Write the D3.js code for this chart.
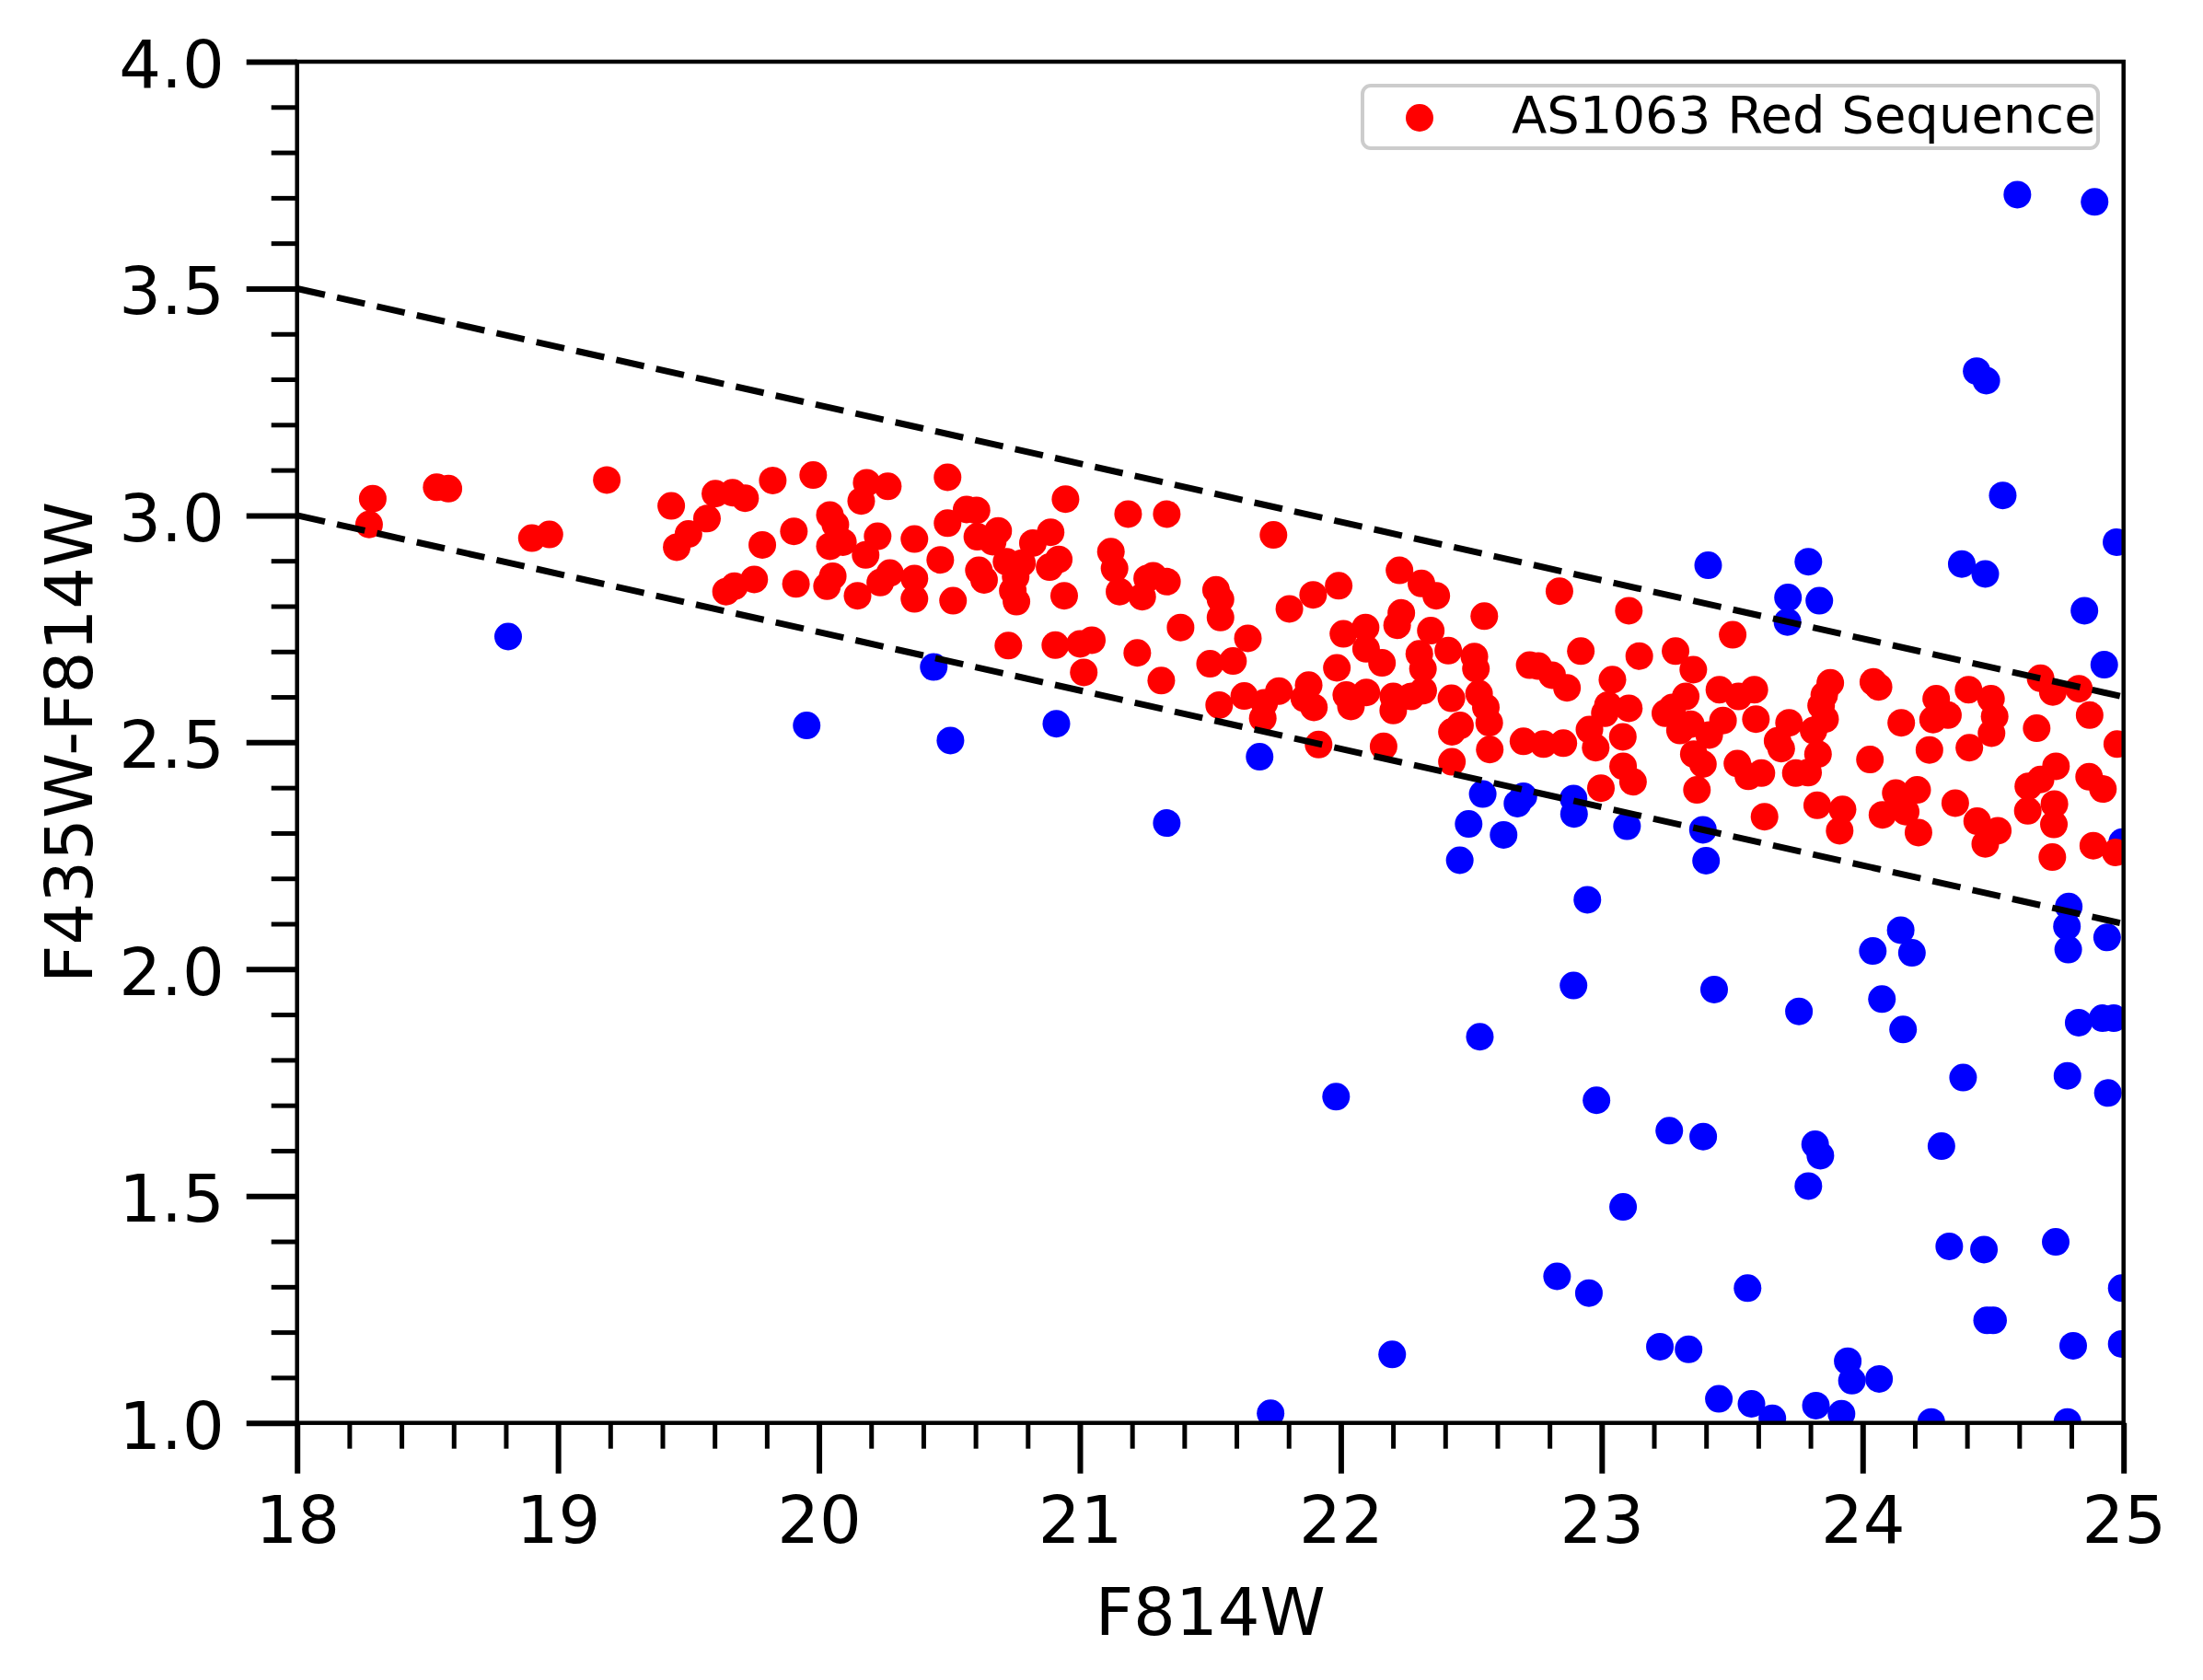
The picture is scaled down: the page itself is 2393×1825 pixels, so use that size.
<!DOCTYPE html>
<html>
<head>
<meta charset="utf-8">
<script src="https://cdn.jsdelivr.net/npm/d3@7"></script>
<style>
  body { margin: 0; background: #ffffff; }
  text { font-family: "DejaVu Sans", sans-serif; fill: #000; }
</style>
</head>
<body>
<svg id="chart" width="2393" height="1825"></svg>
<script>
// Red sequence members  [F814W, F435W-F814W]
var redSequence = [
    [18.29, 3.037], [18.276, 2.980], [18.535, 3.062], [18.58, 3.059], [19.187, 3.078], [18.90, 2.950],
    [18.967, 2.958], [19.434, 3.021], [19.603, 3.048], [19.669, 3.050], [19.717, 3.038], [19.823, 3.077],
    [19.571, 2.993], [19.50, 2.959], [19.455, 2.930], [19.783, 2.935], [19.752, 2.859], [19.676, 2.844],
    [19.644, 2.832],
    [19.978, 3.089], [20.183, 3.072], [20.264, 3.064], [20.162, 3.032], [19.904, 2.965], [20.042, 3.001],
    [20.063, 2.980], [20.042, 2.932], [20.092, 2.941], [20.225, 2.954], [20.179, 2.913], [20.366, 2.948],
    [20.493, 3.084], [20.493, 2.983], [20.566, 3.013], [20.604, 3.011], [20.607, 2.953], [20.687, 2.966],
    [20.666, 2.942], [20.465, 2.902], [20.613, 2.879], [20.633, 2.858], [20.719, 2.898], [20.778, 2.895],
    [20.820, 2.939], [20.888, 2.963], [20.919, 2.903], [20.884, 2.886], [20.754, 2.865], [20.743, 2.834],
    [20.757, 2.810], [20.945, 3.036], [21.185, 3.003], [21.333, 3.003], [21.119, 2.920], [21.133, 2.883],
    [21.152, 2.832], [21.239, 2.821], [21.258, 2.861], [21.281, 2.867], [21.334, 2.854], [21.522, 2.836],
    [21.539, 2.815], [21.539, 2.775], [21.386, 2.753], [20.940, 2.823], [20.514, 2.812], [20.366, 2.816],
    [20.366, 2.861], [20.272, 2.873], [20.235, 2.852], [20.148, 2.823], [20.053, 2.866], [20.031, 2.844],
    [19.912, 2.849], [20.726, 2.713], [20.906, 2.714], [21.001, 2.717], [21.046, 2.725], [21.015, 2.654],
    [21.220, 2.697], [21.312, 2.636], [21.499, 2.673], [21.587, 2.679], [21.534, 2.582],
    [21.742, 2.957], [21.644, 2.729], [21.630, 2.602], [21.707, 2.587], [21.701, 2.553], [21.763, 2.613],
    [21.803, 2.794], [21.894, 2.825], [21.992, 2.845], [21.877, 2.626], [21.897, 2.577], [21.86, 2.597],
    [21.985, 2.664], [22.010, 2.739], [22.095, 2.753], [22.097, 2.706], [22.158, 2.675], [22.021, 2.604],
    [22.039, 2.579], [22.098, 2.610], [22.225, 2.879], [22.309, 2.850], [22.366, 2.823], [22.232, 2.785],
    [22.216, 2.758], [22.345, 2.746], [22.301, 2.695], [22.315, 2.662], [22.412, 2.702], [22.201, 2.601],
    [22.201, 2.570], [22.269, 2.601], [22.316, 2.614], [22.424, 2.597], [22.457, 2.537], [22.426, 2.523],
    [22.512, 2.689], [22.518, 2.662], [22.530, 2.607], [22.556, 2.577], [22.569, 2.543], [22.550, 2.778],
    [22.571, 2.484], [22.426, 2.457], [22.164, 2.491], [21.915, 2.495], [22.724, 2.670], [22.757, 2.668],
    [22.810, 2.648], [22.867, 2.620], [22.838, 2.833], [22.920, 2.701], [22.700, 2.502], [22.777, 2.496],
    [22.853, 2.498], [22.953, 2.528], [22.977, 2.488], [23.041, 2.638], [23.024, 2.582], [23.012, 2.564],
    [23.104, 2.790], [23.144, 2.690], [23.104, 2.575], [23.081, 2.512], [23.082, 2.447], [23.120, 2.413],
    [22.997, 2.399], [23.283, 2.701], [23.351, 2.660], [23.322, 2.601], [23.271, 2.577], [23.244, 2.564],
    [23.300, 2.526], [23.341, 2.540], [23.353, 2.474], [23.388, 2.452], [23.365, 2.395],
    [23.502, 2.737], [23.412, 2.516], [23.465, 2.548], [23.451, 2.616], [23.524, 2.601], [23.585, 2.616],
    [23.591, 2.551], [23.520, 2.453], [23.562, 2.425], [23.612, 2.432], [23.674, 2.503], [23.718, 2.543],
    [23.688, 2.486], [23.744, 2.432], [23.791, 2.433], [23.829, 2.474], [23.812, 2.526], [23.856, 2.551],
    [23.841, 2.581], [23.853, 2.604], [23.876, 2.631], [23.624, 2.336], [23.826, 2.361], [23.923, 2.352],
    [23.912, 2.305], [24.041, 2.633], [24.061, 2.622], [24.148, 2.543], [24.028, 2.462], [24.282, 2.596],
    [24.270, 2.550], [24.327, 2.560], [24.256, 2.483], [24.406, 2.616], [24.492, 2.596], [24.506, 2.557],
    [24.494, 2.520], [24.409, 2.488], [24.127, 2.388], [24.209, 2.395], [24.165, 2.347], [24.076, 2.340],
    [24.214, 2.301], [24.355, 2.366], [24.439, 2.326], [24.518, 2.305], [24.470, 2.276], [24.682, 2.641],
    [24.729, 2.611], [24.829, 2.618], [24.870, 2.560], [24.667, 2.531], [24.976, 2.496], [24.741, 2.447],
    [24.682, 2.418], [24.635, 2.403], [24.735, 2.364], [24.633, 2.349], [24.733, 2.319], [24.868, 2.424],
    [24.921, 2.397], [24.727, 2.247], [24.884, 2.272], [24.970, 2.257]
]

// Everything else in the field
var otherGalaxies = [
    [18.809, 2.733], [20.440, 2.666], [19.953, 2.537], [20.504, 2.504], [20.910, 2.541], [21.333, 2.322],
    [21.689, 2.468], [23.408, 2.890], [22.544, 2.386], [22.700, 2.381], [22.677, 2.365], [22.892, 2.376],
    [22.894, 2.342], [22.490, 2.320], [22.624, 2.296], [22.456, 2.240], [23.097, 2.315], [23.388, 2.307],
    [23.400, 2.239], [22.945, 2.153], [24.537, 3.044], [23.792, 2.898], [23.714, 2.819], [23.834, 2.812],
    [23.712, 2.765], [24.380, 2.893], [24.470, 2.871], [24.973, 2.941], [24.850, 2.790], [24.926, 2.671],
    [24.995, 2.280],
    [22.892, 1.964], [23.431, 1.955], [23.756, 1.907], [24.146, 2.086], [24.039, 2.040], [24.189, 2.036],
    [24.074, 1.934], [24.155, 1.867], [24.790, 2.138], [24.783, 2.094], [24.788, 2.043], [24.937, 2.070],
    [24.828, 1.882], [24.920, 1.892], [24.962, 1.892], [24.385, 1.761], [24.785, 1.765], [24.940, 1.727],
    [22.980, 1.711], [23.259, 1.644], [23.389, 1.631], [23.818, 1.614], [23.838, 1.589], [23.792, 1.522],
    [24.302, 1.610], [23.082, 1.476], [24.332, 1.389], [24.465, 1.382], [24.740, 1.399], [22.829, 1.323],
    [22.951, 1.286], [23.559, 1.297], [24.993, 1.297], [24.477, 1.226], [24.500, 1.226], [23.223, 1.168],
    [23.333, 1.162], [24.807, 1.170], [24.993, 1.174], [23.943, 1.136], [23.959, 1.093], [24.063, 1.097],
    [23.449, 1.053], [23.574, 1.042], [23.654, 1.010], [23.821, 1.038], [23.919, 1.020], [24.263, 1.002],
    [24.785, 1.002],
    [22.533, 1.851], [21.982, 1.719], [22.197, 1.151], [21.731, 1.021],
    [24.593, 3.707], [24.889, 3.691], [24.437, 3.318], [24.474, 3.297]
]

// Selection boundaries of the red sequence
var cutUpper = [[18, 3.5], [25, 2.6]]
var cutLower = [[18, 3.0], [25, 2.1]]

var xMajor = [18, 19, 20, 21, 22, 23, 24, 25]
var yMajor = [1.0, 1.5, 2.0, 2.5, 3.0, 3.5, 4.0]
var xLabel = "F814W"
var yLabel = "F435W-F814W"
var legendLabel = "AS1063 Red Sequence"

var margin = { left: 322.7, top: 67, right: 2393 - 2306.7, bottom: 1825 - 1545.7 }
var chartWidth = 2393 - margin.left - margin.right
var chartHeight = 1825 - margin.top - margin.bottom

var x = d3.scaleLinear().domain([18, 25]).range([0, chartWidth])
var y = d3.scaleLinear().domain([1, 4]).range([chartHeight, 0])

// minor ticks every 0.2 on x, 0.1 on y (skipping the majors)
var xMinor = d3.range(18, 25.001, 0.2).filter(function (d) { return Math.abs(d - Math.round(d)) > 1e-6 })
var yMinor = d3.range(1, 4.001, 0.1).filter(function (d) { return Math.abs(d * 2 - Math.round(d * 2)) > 1e-6 })

var svg = d3.select("#chart")
var g = svg.append("g").attr("transform", "translate(" + margin.left + "," + margin.top + ")")

g.append("clipPath").attr("id", "plotclip")
    .append("rect")
    .attr("width", chartWidth)
    .attr("height", chartHeight)

var plot = g.append("g").attr("clip-path", "url(#plotclip)")

// blue first, red on top, dashed cuts over both
plot.selectAll(".other")
    .data(otherGalaxies)
    .enter()
    .append("circle")
    .attr("class", "other")
    .attr("cx", function (d) { return x(d[0]) })
    .attr("cy", function (d) { return y(d[1]) })
    .attr("r", 15)
    .attr("fill", "#0000ff")

plot.selectAll(".redseq")
    .data(redSequence)
    .enter()
    .append("circle")
    .attr("class", "redseq")
    .attr("cx", function (d) { return x(d[0]) })
    .attr("cy", function (d) { return y(d[1]) })
    .attr("r", 15)
    .attr("fill", "#ff0000")

var line = d3.line()
    .x(function (d) { return x(d[0]) })
    .y(function (d) { return y(d[1]) })

plot.selectAll(".cut")
    .data([cutUpper, cutLower])
    .enter()
    .append("path")
    .attr("class", "cut")
    .attr("d", line)
    .attr("fill", "none")
    .attr("stroke", "#000")
    .attr("stroke-width", 7)
    .attr("stroke-dasharray", "31,13.4")

// axes: majors with labels, minors without
var xAxis = g.append("g").attr("transform", "translate(0," + chartHeight + ")")
    .call(d3.axisBottom(x).tickValues(xMajor).tickSize(55).tickPadding(24).tickFormat(d3.format("d")))
var xAxisMinor = g.append("g").attr("transform", "translate(0," + chartHeight + ")")
    .call(d3.axisBottom(x).tickValues(xMinor).tickSize(28).tickFormat(""))
var yAxis = g.append("g")
    .call(d3.axisLeft(y).tickValues(yMajor).tickSize(55).tickPadding(24).tickFormat(d3.format(".1f")))
var yAxisMinor = g.append("g")
    .call(d3.axisLeft(y).tickValues(yMinor).tickSize(28).tickFormat(""))

g.selectAll(".domain").remove()
xAxis.selectAll("line").attr("stroke-width", 6)
yAxis.selectAll("line").attr("stroke-width", 6)
xAxisMinor.selectAll("line").attr("stroke-width", 5)
yAxisMinor.selectAll("line").attr("stroke-width", 5)
g.selectAll(".tick text")
    .style("font-family", "DejaVu Sans")
    .style("font-size", "72px")
yAxis.selectAll(".tick text").attr("dy", "0.38em")

// frame
g.append("rect")
    .attr("width", chartWidth)
    .attr("height", chartHeight)
    .attr("fill", "none")
    .attr("stroke", "#000")
    .attr("stroke-width", 4.5)

// axis labels
svg.append("text")
    .attr("x", margin.left + chartWidth / 2)
    .attr("y", 1776)
    .attr("text-anchor", "middle")
    .style("font-size", "72px")
    .text(xLabel)

svg.append("text")
    .attr("transform", "translate(100," + (margin.top + chartHeight / 2) + ") rotate(-90)")
    .attr("text-anchor", "middle")
    .style("font-size", "72px")
    .text(yLabel)

// legend
var legend = svg.append("g")
legend.append("rect")
    .attr("x", 1480)
    .attr("y", 93)
    .attr("width", 799)
    .attr("height", 68)
    .attr("rx", 9)
    .attr("fill", "#fff")
    .attr("fill-opacity", 0.8)
    .attr("stroke", "#cccccc")
    .attr("stroke-width", 4)
legend.append("circle")
    .attr("cx", 1542)
    .attr("cy", 128)
    .attr("r", 15)
    .attr("fill", "#ff0000")
legend.append("text")
    .attr("x", 1642)
    .attr("y", 144)
    .style("font-size", "56px")
    .text(legendLabel)
</script>
</body>
</html>
